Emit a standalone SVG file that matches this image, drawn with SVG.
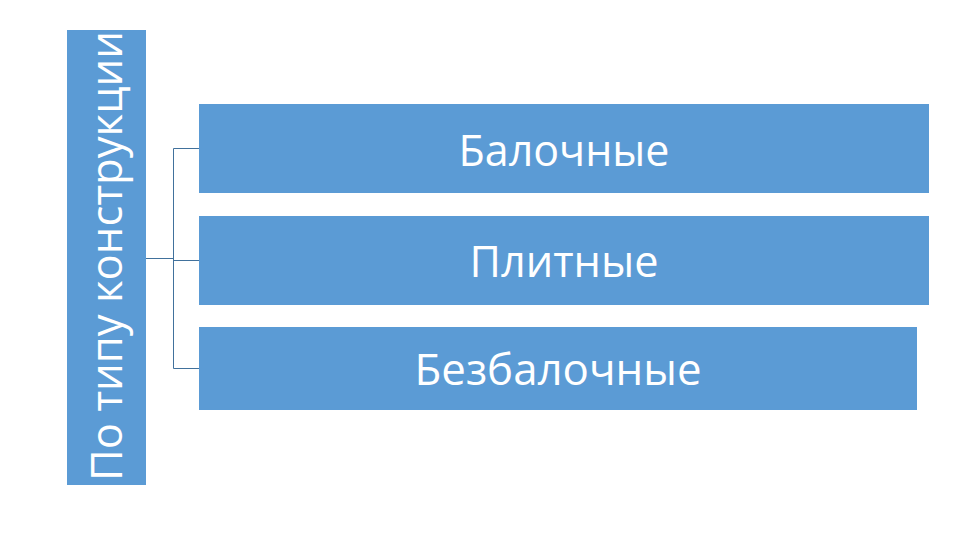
<svg xmlns="http://www.w3.org/2000/svg" width="960" height="540" viewBox="0 0 960 540">
<style>
.box{fill:#5b9bd5;}
.lbl{fill:#ffffff;font-family:"Open Sans","Liberation Sans",sans-serif;font-size:44px;}
.conn{fill:none;stroke:#41719c;stroke-width:1;}
</style>
<rect width="960" height="540" fill="#ffffff"/>
<g id="root">
<rect class="box" x="67" y="30" width="79" height="455"/>
<text class="lbl" transform="translate(122,481) rotate(-90)" textLength="450" lengthAdjust="spacingAndGlyphs">По типу конструкции</text>
</g>
<g id="connectors">
<path class="conn" d="M146,258.5H173.5M173.5,148.5V368.5M173.5,148.5H199M173.5,260.5H199M173.5,368.5H199"/>
</g>
<g id="n1">
<rect class="box" x="199" y="104" width="730" height="89"/>
<text class="lbl" x="564" y="166" text-anchor="middle" textLength="211" lengthAdjust="spacingAndGlyphs">Балочные</text>
</g>
<g id="n2">
<rect class="box" x="199" y="216" width="730" height="89"/>
<text class="lbl" x="564" y="277" text-anchor="middle" textLength="189" lengthAdjust="spacingAndGlyphs">Плитные</text>
</g>
<g id="n3">
<rect class="box" x="199" y="327" width="718" height="83"/>
<text class="lbl" x="558" y="385" text-anchor="middle" textLength="287" lengthAdjust="spacingAndGlyphs">Безбалочные</text>
</g>
</svg>
